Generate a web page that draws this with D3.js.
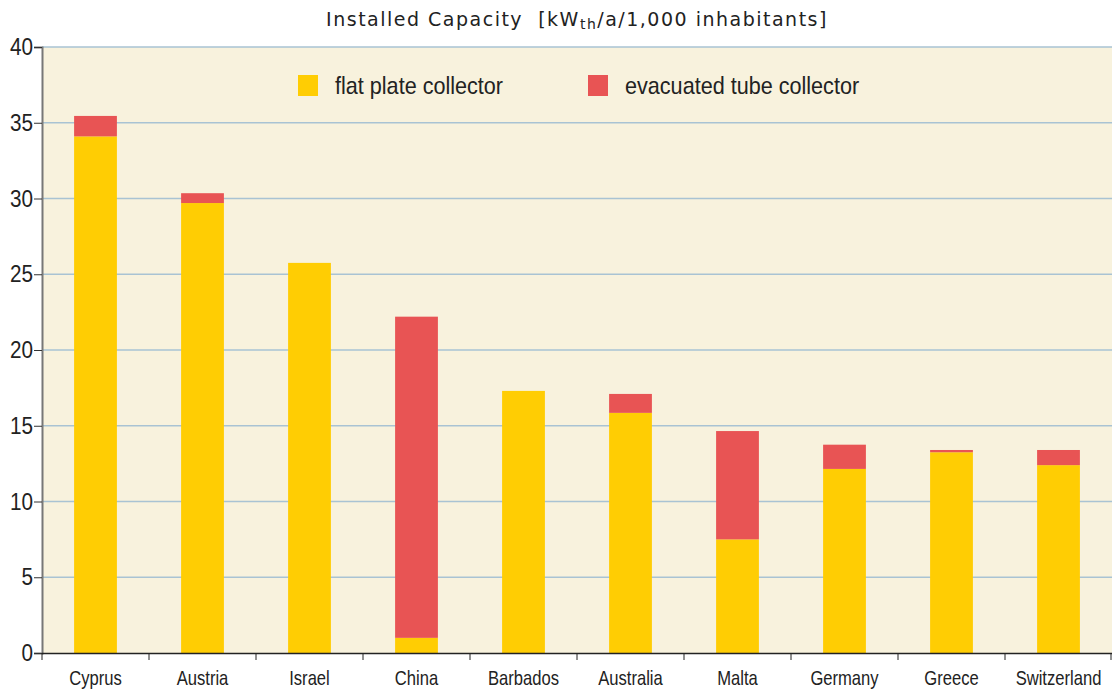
<!DOCTYPE html>
<html><head><meta charset="utf-8">
<script src="https://cdn.jsdelivr.net/npm/d3@7"></script>
<style>body{margin:0;background:#fff;} svg{display:block;}</style>
</head><body>
<svg id="c" width="1112" height="690"></svg>
<script>
const categories = ["Cyprus","Austria","Israel","China","Barbados","Australia","Malta","Germany","Greece","Switzerland"];
const flatPlate = [34.1, 29.7, 25.75, 1.0, 17.3, 15.85, 7.5, 12.15, 13.25, 12.4];
const evacuatedTube = [1.35, 0.65, 0, 21.2, 0, 1.25, 7.15, 1.6, 0.15, 1.0];
const yTicks = [0,5,10,15,20,25,30,35,40];
const seriesNames = ["flat plate collector","evacuated tube collector"];
const colors = ["#ffcd03","#e85454"];

const svg = d3.select("#c");
const m = {l:42, r:0, t:47, b:37};
const W = 1112, H = 690;
const x = d3.scaleBand().domain(categories).range([m.l, W - m.r]).paddingInner(0.6).paddingOuter(0.3);
const y = d3.scaleLinear().domain([0,40]).range([H - m.b, m.t]);
const sans = "'Liberation Sans','Arial',sans-serif";
const SX = 0.83;

svg.append("rect").attr("x", m.l).attr("y", m.t).attr("width", W - m.r - m.l).attr("height", y(0) - m.t).attr("fill", "#f8f2dd");

// grid
svg.append("g").selectAll("line").data(yTicks.filter(d=>d>0)).join("line")
  .attr("x1", m.l).attr("x2", W - m.r).attr("y1", d=>y(d)).attr("y2", d=>y(d))
  .attr("stroke", "#a9c3d3").attr("stroke-width", 1.5);

// stacked data
const rows = categories.map((c,i)=>({cat:c, flat:flatPlate[i], tube:evacuatedTube[i]}));
const stack = d3.stack().keys(["flat","tube"])(rows);
svg.append("g").selectAll("g").data(stack).join("g").attr("fill",(d,i)=>colors[i])
  .selectAll("rect").data(d=>d).join("rect")
  .attr("x", d=>x(d.data.cat)).attr("width", x.bandwidth())
  .attr("y", d=>y(d[1])).attr("height", d=>y(d[0]) - y(d[1]));

// y axis
const ya = svg.append("g").attr("transform", `translate(${m.l},0)`)
  .call(d3.axisLeft(y).tickValues(yTicks).tickSize(8).tickFormat(()=>""));
ya.select(".domain").attr("stroke","#777").attr("stroke-width",2);
ya.selectAll(".tick line").attr("stroke","#333");
svg.append("g").selectAll("text").data(yTicks).join("text")
  .attr("transform", d=>`translate(${m.l-9},${y(d)+8}) scale(0.9,1)`)
  .attr("text-anchor","end").attr("font-family",sans).attr("font-size",23).attr("fill","#222")
  .text(d=>d);

// x axis
const step = x.step();
const bounds = categories.map((c,i)=> m.l + i*step).concat([W - m.r - 1]);
const xa = svg.append("g");
xa.append("line").attr("x1", m.l).attr("x2", W - m.r).attr("y1", y(0)+0.5).attr("y2", y(0)+0.5).attr("stroke","#222").attr("stroke-width",1.5);
xa.selectAll("line.t").data(bounds).join("line").attr("class","t")
  .attr("x1", d=>d).attr("x2", d=>d).attr("y1", y(0)).attr("y2", y(0)+7).attr("stroke","#222");
xa.selectAll("text").data(categories).join("text")
  .attr("transform", d=>`translate(${x(d)+x.bandwidth()/2},${y(0)+32}) scale(${SX},1)`)
  .attr("text-anchor","middle").attr("font-family",sans).attr("font-size",20).attr("fill","#222")
  .text(d=>d);

// title
const t = svg.append("text").attr("x", 577).attr("y", 26).attr("text-anchor","middle")
  .style("white-space","pre")
  .attr("font-family","'DejaVu Sans','Verdana',sans-serif").attr("font-size",19).attr("fill","#222").attr("letter-spacing",1.5);
t.append("tspan").text("Installed Capacity\u00a0\u00a0[kW");
t.append("tspan").attr("font-size",14).attr("dy",3).text("th");
t.append("tspan").attr("dy",-3).text("/a/1,000 inhabitants]");

// legend
const legX = [298, 588];
const lg = svg.append("g").selectAll("g").data(seriesNames).join("g")
  .attr("transform",(d,i)=>`translate(${legX[i]},75)`);
lg.append("rect").attr("width",20).attr("height",21).attr("fill",(d,i)=>colors[i]);
lg.append("text").attr("transform",`translate(37,18.5) scale(0.9,1)`).attr("font-family",sans).attr("font-size",24).attr("fill","#222").text(d=>d);
</script>
</body></html>
